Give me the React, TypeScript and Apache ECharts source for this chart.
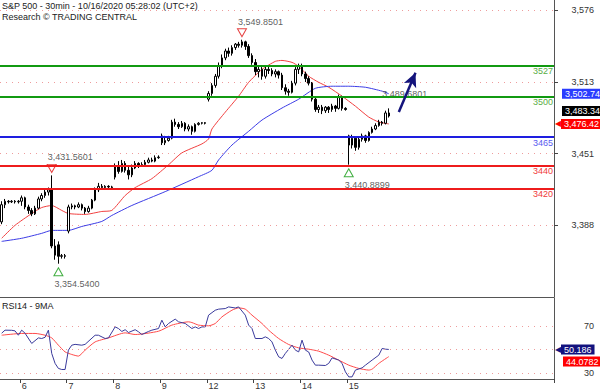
import { useEffect, useRef } from 'react';
import * as echarts from 'echarts';

const titleLine1 = 'S&P 500 - 30min - 10/16/2020 05:28:02 (UTC+2)';
const titleLine2 = 'Research © TRADING CENTRAL';
const rsiTitle = 'RSI14 - 9MA';

const dayLabels = ['5', '6', '7', '8', '9', '12', '13', '14', '15'];
const barsPerDay = [6, 14, 14, 14, 14, 14, 14, 14, 13];
const totalSlots = 166;

// [open, close, low, high]
const candles: number[][] = [
  [3391, 3406, 3389, 3409], [3406, 3409, 3403, 3411], [3409, 3408.5, 3407, 3410], [3408.5, 3409, 3407.5, 3410],
  [3409, 3408.5, 3407, 3410], [3408.5, 3409, 3407, 3410],
  [3409, 3412, 3405, 3414], [3412, 3404, 3402, 3413], [3404, 3401, 3398, 3406], [3401, 3398, 3396, 3403],
  [3398, 3403, 3397, 3405], [3403, 3411, 3402, 3413], [3411, 3414, 3409, 3416], [3414, 3417, 3412, 3419],
  [3417, 3419, 3414, 3421], [3419, 3370, 3368, 3431.5601], [3370, 3362, 3358, 3376], [3371, 3361, 3354.54, 3374],
  [3361, 3361.5, 3359, 3363], [3361.5, 3361, 3359, 3363],
  [3383, 3404, 3381, 3406], [3404, 3405, 3402, 3407], [3405, 3404, 3402, 3406], [3404, 3406, 3403, 3408],
  [3406, 3403, 3401, 3407], [3403, 3400, 3398, 3404], [3400, 3403, 3399, 3405], [3403, 3410, 3402, 3411],
  [3410, 3419, 3409, 3421], [3419, 3422, 3417, 3425], [3422, 3421, 3419, 3424], [3421, 3422, 3420, 3423],
  [3422, 3421.5, 3420.5, 3423], [3421.5, 3421, 3420, 3422.5],
  [3430, 3440, 3428, 3442], [3440, 3435, 3433, 3444], [3435, 3442, 3434, 3445], [3442, 3436, 3434, 3444],
  [3436, 3432, 3428, 3440], [3432, 3438, 3430, 3441], [3438, 3442, 3437, 3444], [3442, 3440, 3438, 3443],
  [3440, 3441, 3439, 3443], [3441, 3443, 3440, 3445], [3443, 3445, 3442, 3447], [3445, 3444, 3443, 3447],
  [3444, 3447, 3443, 3449], [3447, 3447.5, 3446, 3449],
  [3466, 3460, 3458, 3468], [3460, 3462, 3458, 3466], [3462, 3464, 3461, 3466], [3464, 3478, 3463, 3480],
  [3478, 3476, 3474, 3481], [3476, 3474, 3472, 3478], [3474, 3477, 3473, 3479], [3477, 3472, 3470, 3478],
  [3472, 3474, 3470, 3476], [3474, 3470, 3467, 3475], [3470, 3476, 3469, 3477], [3476, 3477, 3475, 3478],
  [3477, 3477.5, 3476, 3478], [3477.5, 3477, 3476, 3478],
  [3498, 3503, 3496, 3505], [3503, 3510, 3501, 3512], [3510, 3518, 3508, 3520], [3518, 3527, 3516, 3530],
  [3527, 3534, 3525, 3537], [3534, 3540, 3532, 3542], [3540, 3538, 3535, 3543], [3538, 3543, 3536, 3545],
  [3543, 3546, 3541, 3547], [3546, 3545, 3543, 3548], [3545, 3548, 3543, 3549.8501], [3548, 3544, 3541, 3549],
  [3544, 3536, 3534, 3546], [3536, 3530, 3528, 3538],
  [3530, 3522, 3519, 3533], [3522, 3524, 3517, 3527], [3524, 3518, 3515, 3526], [3518, 3524, 3516, 3527],
  [3524, 3523, 3520, 3527], [3523, 3520, 3518, 3525], [3520, 3522, 3517, 3524], [3522, 3519, 3516, 3523],
  [3519, 3508, 3506, 3521], [3508, 3505, 3502, 3511], [3505, 3504, 3501, 3507], [3504, 3512, 3503, 3514],
  [3512, 3524, 3510, 3526], [3524, 3527, 3520, 3529],
  [3527, 3520, 3518, 3529], [3520, 3516, 3513, 3522], [3516, 3512, 3510, 3518], [3512, 3498, 3496, 3513],
  [3498, 3489, 3487, 3500], [3489, 3491, 3486, 3493], [3491, 3488, 3485, 3493], [3488, 3491, 3486, 3492],
  [3491, 3489, 3486, 3492], [3489, 3492, 3487, 3494], [3492, 3490, 3487, 3493], [3490, 3500, 3489, 3502],
  [3500, 3490, 3488, 3501], [3490, 3489, 3488, 3491],
  [3466, 3458, 3440.8899, 3467], [3458, 3464, 3455, 3467], [3464, 3456, 3453, 3465], [3456, 3463, 3454, 3465],
  [3463, 3466, 3461, 3468], [3466, 3462, 3460, 3467], [3462, 3469, 3461, 3470], [3469, 3472, 3468, 3474],
  [3472, 3475, 3471, 3477], [3475, 3478, 3474, 3480], [3478, 3477, 3475, 3479], [3477, 3486, 3476, 3488],
  [3486, 3483.34, 3482, 3490],
];

// [bar index, value] readings of the moving averages
const ma20 = [
  [0, 3376.7], [4, 3388], [9, 3398.3], [12, 3403.5], [15, 3405.3], [18, 3401], [20, 3398.3], [25, 3397.5],
  [30, 3400.1], [33, 3401], [37, 3414], [40, 3420.9], [45, 3428.7], [50, 3440.8], [54, 3451.2], [60, 3459],
  [62, 3463.3], [63, 3472], [67, 3486.7], [71, 3500.6], [74, 3512.7], [78, 3524], [82, 3531], [84, 3531.8],
  [87, 3530.1], [89, 3526.6], [92, 3518], [95, 3512.7], [98, 3508.4], [102, 3500.6], [106, 3491.9],
  [110, 3482.4], [113, 3478.1], [116, 3476.42],
];
const ma50 = [
  [0, 3374], [6, 3376.7], [12, 3381], [15, 3383.6], [20, 3383.6], [24, 3387], [30, 3391.4], [33, 3396.6],
  [39, 3405.3], [49, 3417.4], [59, 3430.4], [63, 3436], [65, 3445], [69, 3458], [74, 3470], [78, 3479.8],
  [84, 3490.3], [89, 3498], [94, 3507.5], [99, 3509.3], [104, 3509.3], [109, 3508.4], [114, 3505],
  [116, 3502.74],
];

const levelValues = [3527, 3500, 3465, 3440, 3420];
const pivotHighs = [[72, 3549.8501], [15, 3431.5601]];
const pivotLows = [[17, 3354.54], [104, 3440.8899]];
const targetPoints = [[114, 3489.6801]];
const arrowPoints = [[119, 3486.9], [124, 3521]];

const rsi = [
  [0, 64], [1, 66.6], [3, 66.5], [4, 66], [5, 62.3], [6, 66.6], [7, 64], [9, 55.3], [11, 60], [12, 59.5],
  [13, 60.5], [14, 66.6], [15, 46.8], [16, 38.3], [17, 34], [18, 33.1], [19, 33.1], [20, 49.6], [21, 53.8],
  [22, 54.5], [24, 53.8], [25, 54.5], [28, 62.3], [29, 62.3], [31, 59.5], [32, 60], [34, 69.4], [35, 68],
  [36, 65.5], [37, 67], [38, 64.6], [40, 67], [41, 65.2], [42, 62.9], [44, 65.5], [45, 66.6], [47, 68],
  [48, 75.1], [49, 69.4], [50, 72.3], [52, 76], [53, 73.7], [55, 72.3], [57, 68], [58, 69.4], [59, 68],
  [60, 69.4], [61, 69.4], [62, 79.4], [64, 83.6], [65, 84.5], [67, 85], [68, 86.4], [70, 85.5], [71, 86.4],
  [73, 79.4], [74, 70.9], [75, 68], [76, 59.5], [78, 59.5], [79, 60.9], [80, 59.5], [81, 56.6], [82, 49.6],
  [83, 43.9], [84, 42.5], [85, 46.8], [87, 53.8], [88, 49.6], [89, 48.1], [90, 58.1], [91, 49.6], [92, 48],
  [93, 41.1], [94, 36.8], [95, 36.8], [97, 36.5], [98, 38.3], [99, 43], [101, 41.1], [102, 38.3], [103, 31.1],
  [104, 26.8], [105, 26.8], [106, 32.6], [108, 34.5], [109, 36.8], [111, 41.1], [113, 45.3], [114, 51],
  [115, 50.4], [116, 50.186],
];
const rsiMa = [
  [0, 62.3], [6, 63.8], [10, 63.8], [13, 62.3], [15, 60], [17, 53.8], [19, 48.1], [21, 45.9], [23, 44.5],
  [25, 49.6], [28, 56.6], [32, 60], [37, 64.3], [40, 62.9], [47, 65.7], [51, 70.9], [56, 73.7], [57, 73.1],
  [59, 70.9], [62, 70.3], [64, 72.3], [66, 77.9], [69, 83.6], [71, 85.6], [73, 84.5], [75, 79.4], [78, 72.3],
  [80, 66.6], [83, 59.5], [86, 54.4], [89, 51.5], [92, 50.4], [95, 48.7], [98, 45.3], [101, 41.1],
  [104, 36.8], [107, 34], [110, 32.6], [111, 33.4], [113, 38.3], [116, 44.0782],
];
const rsiGridValues = [30, 50, 70];
const rsiLabelValues = [30, 70];

const FONT = "'Liberation Sans', Arial, sans-serif";
const fmtN = (v: number, d: number) =>
  v.toLocaleString('en-US', { minimumFractionDigits: d, maximumFractionDigits: d });
const HIDDEN = { color: 'rgba(255,255,255,0)', width: 1, type: 'solid' };

export default function App() {
  const ref = useRef<HTMLDivElement>(null);

  useEffect(() => {
    if (!ref.current) return;
    const chart = echarts.init(ref.current, undefined, { renderer: 'svg' });

    const categories: string[] = [];
    const dayStarts = new Set<number>();
    dayLabels.forEach((d, di) => {
      for (let k = 0; k < barsPerDay[di]; k++) {
        if (k === 0 && di > 0) dayStarts.add(categories.length);
        categories.push(`${d}|${k}`);
      }
    });
    while (categories.length < totalSlots) categories.push(`|${categories.length}`);

    const lastClose = candles[candles.length - 1][1];
    const lastMa20 = ma20[ma20.length - 1][1];
    const lastMa50 = ma50[ma50.length - 1][1];
    const lastRsi = rsi[rsi.length - 1][1];
    const lastRsiMa = rsiMa[rsiMa.length - 1][1];

    const levelLine = ['#119a11', '#119a11', '#1e1ee0', '#ee1c1c', '#ee1c1c'];
    const levelText = ['#5aae45', '#5aae45', '#5a5af0', '#f03a3a', '#f03a3a'];

    const titleStyle = { fontSize: 9, fontWeight: 'normal' as const, color: '#222', fontFamily: FONT };
    const boxLabel = (text: string, bg: string, distance: number, offset: number[]) => ({
      show: true, position: 'end', distance, offset, formatter: text, opacity: 1,
      backgroundColor: bg, color: '#fff', padding: [1, 3, 0, 3], fontSize: 9, fontFamily: FONT,
    });
    const pointerLabel = (text: string, bg: string) => ({
      show: true, position: 'end', distance: 1, opacity: 1,
      formatter: `{p|◀}{v|${text}}`,
      rich: {
        p: { color: bg, fontSize: 8, fontFamily: FONT },
        v: { backgroundColor: bg, color: '#fff', padding: [1, 3, 0, 3], fontSize: 9, fontFamily: FONT },
      },
    });

    const option: any = {
      animation: false,
      backgroundColor: '#ffffff',
      textStyle: { fontFamily: FONT, fontSize: 9 },
      title: [
        { text: titleLine1, left: 2, top: 1, padding: 0, textStyle: titleStyle },
        { text: titleLine2, left: 2, top: 12, padding: 0, textStyle: titleStyle },
        { text: rsiTitle, left: 2, top: 301, padding: 0, textStyle: titleStyle },
      ],
      grid: [
        { left: 0, top: 0, width: 554, height: 297 },
        { left: 0, top: 298, width: 554, height: 81 },
      ],
      xAxis: [
        {
          type: 'category', gridIndex: 0, data: categories, boundaryGap: true,
          axisLine: { show: true, lineStyle: { color: '#555' } },
          axisTick: { show: false }, axisLabel: { show: false }, splitLine: { show: false },
        },
        {
          type: 'category', gridIndex: 1, data: categories, boundaryGap: true,
          axisLine: { show: true, lineStyle: { color: '#555' } },
          axisTick: { show: true, interval: (i: number) => dayStarts.has(i), length: 4, lineStyle: { color: '#444' } },
          axisLabel: {
            interval: (i: number) => dayStarts.has(i),
            formatter: (v: string) => v.split('|')[0],
            align: 'left', margin: 2, fontSize: 9, color: '#333', fontFamily: FONT,
          },
          splitLine: { show: false },
        },
      ],
      yAxis: [
        {
          type: 'value', gridIndex: 0, position: 'right', min: 3325.5, max: 3584.5, interval: 62.5,
          axisLine: { show: true, lineStyle: { color: '#555' } },
          axisTick: { show: true, length: 4, lineStyle: { color: '#444' } },
          axisLabel: {
            formatter: (v: number) => Math.round(v).toLocaleString('en-US'),
            align: 'right', margin: 40, fontSize: 9, color: '#333', fontFamily: FONT,
            showMinLabel: false, showMaxLabel: false,
          },
          splitLine: { show: true, showMinLine: false, showMaxLine: false, lineStyle: { color: '#ee9c9c', type: [1, 5], width: 1 } },
        },
        {
          type: 'value', gridIndex: 1, position: 'right', min: 25, max: 94, interval: 5,
          axisLine: { show: true, lineStyle: { color: '#555' } },
          axisTick: { show: false },
          axisLabel: {
            formatter: (v: number) => (rsiLabelValues.includes(v) ? String(v) : ''),
            align: 'right', margin: 40, fontSize: 9, color: '#333', fontFamily: FONT,
          },
          splitLine: { show: false },
        },
      ],
      series: [
        {
          type: 'candlestick', xAxisIndex: 0, yAxisIndex: 0, data: candles, barWidth: 2, clip: false,
          itemStyle: { color: '#ffffff', color0: '#000000', borderColor: '#000000', borderColor0: '#000000', borderWidth: 1 },
          markLine: {
            silent: true, symbol: ['none', 'none'], animation: false,
            data: [
              ...levelValues.map((v, i) => ({
                yAxis: v,
                lineStyle: { color: levelLine[i], width: 2, type: 'solid' },
                label: { show: true, position: 'insideEndBottom', formatter: String(v), color: levelText[i], fontSize: 9, fontFamily: FONT, distance: [1, 1] },
              })),
              { yAxis: lastClose, lineStyle: HIDDEN, label: boxLabel(fmtN(lastClose, 2), '#000000', 8, [0, -5]) },
              [
                { coord: arrowPoints[0], symbol: 'none', lineStyle: { color: '#14147c', width: 2.5, type: 'solid' }, label: { show: false } },
                { coord: arrowPoints[1], symbol: 'arrow', symbolSize: [10, 14] },
              ],
            ],
          },
          z: 3,
        },
        {
          type: 'line', xAxisIndex: 0, yAxisIndex: 0, data: ma20, showSymbol: false, smooth: 0.2, clip: false,
          lineStyle: { color: '#f24040', width: 1 }, z: 2,
          markLine: {
            silent: true, symbol: ['none', 'none'],
            data: [{ yAxis: lastMa20, lineStyle: HIDDEN, label: pointerLabel(fmtN(lastMa20, 2), '#ff0000') }],
          },
        },
        {
          type: 'line', xAxisIndex: 0, yAxisIndex: 0, data: ma50, showSymbol: false, smooth: 0.2, clip: false,
          lineStyle: { color: '#3c3ce6', width: 1 }, z: 2,
          markLine: {
            silent: true, symbol: ['none', 'none'],
            data: [{ yAxis: lastMa50, lineStyle: HIDDEN, label: boxLabel(fmtN(lastMa50, 2), '#2a3cff', 8, [0, 0]) }],
          },
        },
        {
          type: 'scatter', xAxisIndex: 0, yAxisIndex: 0, data: pivotHighs,
          symbol: 'path://M0,0 L10,0 L5,9 Z', symbolSize: [9, 8], symbolOffset: [0, -7], clip: false,
          itemStyle: { color: '#ffffff', borderColor: '#e01010', borderWidth: 1 },
          label: {
            show: true, position: 'top', distance: 2, align: 'left', offset: [-4, 0],
            formatter: (p: any) => fmtN(p.value[1], 4), color: '#333', fontSize: 9, fontFamily: FONT,
          },
          z: 4,
        },
        {
          type: 'scatter', xAxisIndex: 0, yAxisIndex: 0, data: pivotLows,
          symbol: 'path://M5,0 L10,9 L0,9 Z', symbolSize: [9, 8], symbolOffset: [0, 8], clip: false,
          itemStyle: { color: '#ffffff', borderColor: '#119a11', borderWidth: 1 },
          label: {
            show: true, position: 'bottom', distance: 3, align: 'left', offset: [-4, 0],
            formatter: (p: any) => fmtN(p.value[1], 4), color: '#333', fontSize: 9, fontFamily: FONT,
          },
          z: 4,
        },
        {
          type: 'scatter', xAxisIndex: 0, yAxisIndex: 0, data: targetPoints,
          symbol: 'circle', symbolSize: 1, clip: false,
          itemStyle: { color: 'rgba(0,0,0,0)' },
          label: {
            show: true, position: 'top', distance: 10, align: 'left',
            formatter: (p: any) => fmtN(p.value[1], 4), color: '#333', fontSize: 9, fontFamily: FONT,
          },
          z: 4,
        },
        {
          type: 'line', xAxisIndex: 1, yAxisIndex: 1, data: rsi, showSymbol: false, clip: false,
          lineStyle: { color: '#3a3a9c', width: 1 }, z: 3,
          markLine: {
            silent: true, symbol: ['none', 'none'],
            data: [
              ...rsiGridValues.map((v) => ({
                yAxis: v, lineStyle: { color: '#ee9c9c', type: [1, 5], width: 1 }, label: { show: false },
              })),
              { yAxis: lastRsi, lineStyle: HIDDEN, label: pointerLabel(String(lastRsi), '#12127e') },
            ],
          },
        },
        {
          type: 'line', xAxisIndex: 1, yAxisIndex: 1, data: rsiMa, showSymbol: false, smooth: 0.2, clip: false,
          lineStyle: { color: '#ff4a4a', width: 1 }, z: 2,
          markLine: {
            silent: true, symbol: ['none', 'none'],
            data: [{ yAxis: lastRsiMa, lineStyle: HIDDEN, label: boxLabel(String(lastRsiMa), '#ff0000', 9, [0, 5]) }],
          },
        },
      ],
    };

    chart.setOption(option);
    return () => chart.dispose();
  }, []);

  return (
    <div
      ref={ref}
      style={{ position: 'fixed', left: 0, top: 0, width: 600, height: 390, background: '#fff' }}
    />
  );
}
